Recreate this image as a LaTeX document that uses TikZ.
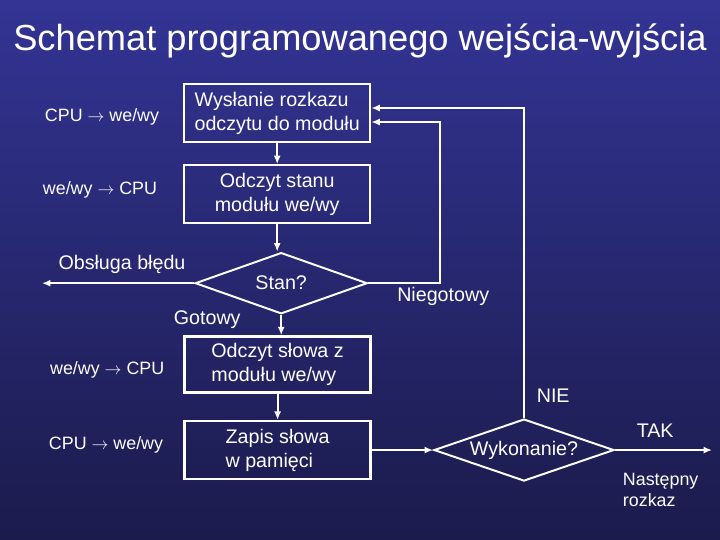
\documentclass[tikz,border=0pt]{standalone}
\usepackage{fontspec}
\setmainfont{Liberation Sans}
\usetikzlibrary{arrows.meta,positioning,shapes.geometric}
\definecolor{bgtop}{RGB}{51,52,148}
\definecolor{bgbottom}{RGB}{27,27,76}

\begin{document}
\begin{tikzpicture}[
    box/.style={draw=white, line width=1.6pt, minimum width=4.65cm, minimum height=1.45cm, align=left, text=white, font=\fontsize{14}{17}\selectfont},
    dec/.style={draw=white, line width=1.4pt, diamond, aspect=2.9, inner sep=0pt, text=white, font=\fontsize{14}{17}\selectfont},
    lbl/.style={text=white, font=\fontsize{14}{17}\selectfont},
    side/.style={text=white, font=\fontsize{12.7}{15}\selectfont},
    flow/.style={draw=white, line width=1.3pt, -{Latex[length=6pt,width=5pt]}},
    >=Latex,
    node distance=0.55cm
]

% background and frame
\shade[top color=bgtop, bottom color=bgbottom] (0,0) rectangle (18,-13.5);
\useasboundingbox (0,0) rectangle (18,-13.5);

\node[text=white, font=\fontsize{25.8}{30}\selectfont] (title) at (9,-1.03) {Schemat programowanego wejścia-wyjścia};

% main column
\node[box] (send) at (6.93,-2.83) {Wysłanie rozkazu\\odczytu do modułu};
\node[box, align=center, below=0.52cm of send] (status) {Odczyt stanu\\modułu we/wy};
\node[dec, minimum width=4.3cm, minimum height=1.53cm] (state) at (7.03,-7.08) {Stan?};
\node[box, minimum height=1.4cm] (readw) at (6.94,-9.11) {Odczyt słowa z\\modułu we/wy};
\node[box, below=0.66cm of readw] (store) {Zapis słowa\\w pamięci};
\node[dec, minimum width=4.5cm, minimum height=1.55cm] (done) at (store -| 13.1,0) {Wykonanie?};

\coordinate (err) at (1.05,0);
\coordinate (next) at (17.8,0);

% side labels
\node[side] (l1) at (2.55,-2.93) {CPU $\rightarrow$ we/wy};
\node[side] (l2) at (2.5,-4.75) {we/wy $\rightarrow$ CPU};
\node[side] (l3) at (2.68,-9.25) {we/wy $\rightarrow$ CPU};
\node[side] (l4) at (2.65,-11.13) {CPU $\rightarrow$ we/wy};

% branch labels
\node[lbl] (lerr) at (3.05,-6.6) {Obsługa błędu};
\node[lbl] (lnot) at (11.08,-7.4) {Niegotowy};
\node[lbl] (lok) at (5.18,-8.0) {Gotowy};
\node[lbl] (lno) at (13.83,-9.9) {NIE};
\node[lbl] (lyes) at (16.38,-10.78) {TAK};
\node[side, anchor=west, align=left, font=\fontsize{12.7}{14.5}\selectfont] (lnext) at (15.45,-12.25) {Następny\\rozkaz};

% connectors
\draw[flow] (send) -- (send |- status.north);
\draw[flow] (status) -- (status |- state.north);
\draw[flow] (state.west) -- (state.west -| err);
\draw[flow] (state.east) -- ++(1.8,0) |- ([yshift=-0.22cm]send.east);
\draw[flow] (state) -- (state |- readw.north);
\draw[flow] (readw) -- (store);
\draw[flow] (store.east) -- (done.west);
\draw[flow] (done.north) |- ([yshift=0.13cm]send.east);
\draw[flow] (done.east) -- (done.east -| next);

\end{tikzpicture}
\end{document}
